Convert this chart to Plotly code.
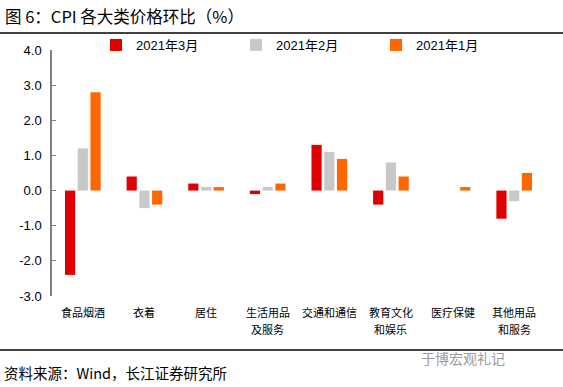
import plotly.graph_objects as go

categories = ["食品烟酒", "衣着", "居住", "生活用品<br>及服务", "交通和通信", "教育文化<br>和娱乐", "医疗保健", "其他用品<br>和服务"]
mar_2021 = [-2.4, 0.4, 0.2, -0.1, 1.3, -0.4, 0.0, -0.8]
feb_2021 = [1.2, -0.5, 0.1, 0.1, 1.1, 0.8, 0.0, -0.3]
jan_2021 = [2.8, -0.4, 0.1, 0.2, 0.9, 0.4, 0.1, 0.5]
series_names = ["2021年3月", "2021年2月", "2021年1月"]
colors = ["#E00000", "#C8C8C8", "#FF6600"]
y_ticks = [4.0, 3.0, 2.0, 1.0, 0.0, -1.0, -2.0, -3.0]
y_min, y_max = -3.0, 4.0

FONT = "Liberation Sans, Arial, Noto Sans CJK SC, sans-serif"
CJK = "Noto Sans CJK SC, Liberation Sans, sans-serif"

PW, PH = 493, 246  # plot area size in px

fig = go.Figure()
for name, vals, c in zip(series_names, [mar_2021, feb_2021, jan_2021], colors):
    fig.add_trace(go.Bar(x=list(range(len(categories))), y=vals, name=name,
                         marker=dict(color=c, line=dict(width=0))))

n = len(categories)
fig.update_layout(
    width=563, height=387,
    margin=dict(l=52, r=18, t=50, b=91),
    paper_bgcolor="white", plot_bgcolor="white",
    barmode="group", bargap=0.38, bargroupgap=0.2,
    font=dict(family=FONT, size=12, color="black"),
    showlegend=True,
    legend=dict(orientation="h", x=(96-52)/PW, y=1 + 5/PH, xanchor="left", yanchor="middle",
                font=dict(family=FONT, size=13), entrywidth=95, entrywidthmode="pixels",
                bgcolor="rgba(255,255,255,0)", borderwidth=0, traceorder="normal"),
    xaxis=dict(range=[-0.5, n - 0.5], showticklabels=False, showline=False,
               showgrid=False, zeroline=False, ticks="", fixedrange=True),
    xaxis2=dict(overlaying="x", anchor="free", position=(0 - y_min) / (y_max - y_min),
                range=[-0.5, n - 0.5], tickmode="array",
                tickvals=[i + 0.5 for i in range(n)], showticklabels=False,
                showline=True, linecolor="#7F7F7F", linewidth=1.5,
                ticks="inside", ticklen=4, tickcolor="#7F7F7F", tickwidth=1,
                showgrid=False, zeroline=False),
    yaxis=dict(range=[y_min, y_max], tickmode="array", tickvals=y_ticks,
               ticktext=[f"{v:.1f}" for v in y_ticks], showline=True,
               linecolor="#7F7F7F", linewidth=1.5, ticks="inside", ticklen=4,
               tickcolor="#7F7F7F", showgrid=False, zeroline=False,
               tickfont=dict(family=FONT, size=13), ticklabelstandoff=6),
)

# category labels (one annotation per line, to get the reference's line spacing)
for i, lab in enumerate(categories):
    for j, line in enumerate(lab.split("<br>")):
        fig.add_annotation(text=line, xref="x", yref="paper", x=i,
                           y=-(312 - 296 + 17 * j) / PH, xanchor="center", yanchor="middle",
                           showarrow=False, font=dict(family=CJK, size=11, color="black"))

# header / footer decorations
fig.add_annotation(text="图 6：CPI 各大类价格环比（%）", xref="paper", yref="paper",
                   x=-49/PW, y=1 + (50-16)/PH, xanchor="left", yanchor="middle",
                   showarrow=False, font=dict(family=CJK, size=16.5, color="black"))
fig.add_shape(type="line", xref="paper", yref="paper", x0=-52/PW, x1=1 + 18/PW,
              y0=(296 - 33) / PH, y1=(296 - 33) / PH, layer="above",
              line=dict(color="black", width=1.5))
fig.add_shape(type="line", xref="paper", yref="paper", x0=-52/PW, x1=1 + 18/PW,
              y0=(296 - 350) / PH, y1=(296 - 350) / PH, layer="above",
              line=dict(color="black", width=1.5))
fig.add_annotation(text="资料来源：Wind，长江证券研究所", xref="paper", yref="paper",
                   x=-50/PW, y=-(372-296)/PH, xanchor="left", yanchor="middle",
                   showarrow=False, font=dict(family=CJK, size=14.5, color="black"))
fig.add_annotation(text="于博宏观礼记", xref="paper", yref="paper",
                   x=(419-52)/PW, y=-(358-296)/PH, xanchor="left", yanchor="middle",
                   showarrow=False, font=dict(family=CJK, size=14, color="#9A9A9A"))

fig.write_html("out.html", config={"displayModeBar": False},
               post_script="document.body.style.margin='0';")
